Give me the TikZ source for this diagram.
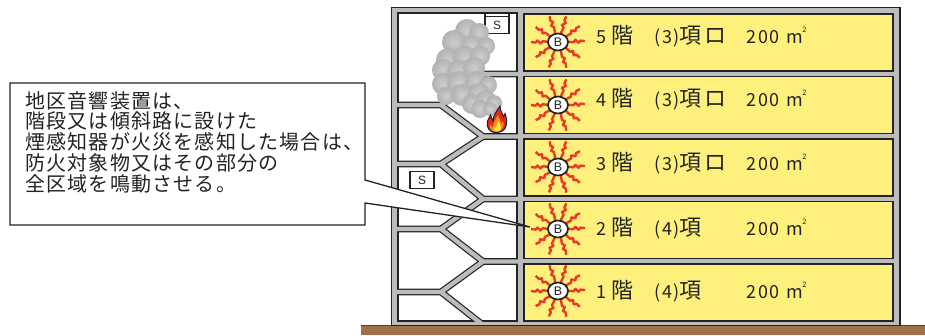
\documentclass[tikz,border=0pt]{standalone}
\usepackage{fontspec}
\setmainfont{Noto Sans CJK JP}
\newfontfamily\callfont[LetterSpace=6]{Noto Sans CJK JP}
\newfontfamily\rowfont[LetterSpace=10]{Noto Sans CJK JP}
\newfontfamily\iconfont{Liberation Sans}

\definecolor{ink}{RGB}{35,35,35}
\definecolor{wallgray}{RGB}{188,188,188}
\definecolor{roomyellow}{RGB}{254,240,125}
\definecolor{bellred}{RGB}{232,58,36}
\definecolor{earth}{RGB}{160,112,72}
\definecolor{earthdark}{RGB}{92,62,38}
\definecolor{smokein}{RGB}{206,206,206}
\definecolor{smokeout}{RGB}{178,178,178}
\definecolor{flamered}{RGB}{226,40,24}
\definecolor{flameorange}{RGB}{247,140,30}
\definecolor{flameyellow}{RGB}{255,230,60}

% larger kanji inside the floor labels
\newcommand\K[1]{{\fontsize{22}{22}\selectfont #1}}
% square metres with a small raised 2
\newcommand\sqm{m\kern-0.5pt\raisebox{0.6em}{\fontsize{7.5}{7.5}\selectfont 2}}

% centre lines of the stair landings and flights
\newcommand\stairflights{
  (521,74) -- (483,74) -- (441,105) -- (394,105)
  (441,105) -- (483,136.5) -- (521,136.5)
  (483,136.5) -- (441,164) -- (394,164)
  (441,164) -- (483,199) -- (521,199)
  (483,199) -- (441,229) -- (394,229)
  (441,229) -- (483,261.5) -- (521,261.5)
  (483,261.5) -- (441,292) -- (394,292)
  (441,292) -- (483,325)
}

\tikzset{
  outline/.style={draw=ink, line width=1.2},
  roombox/.style={outline, fill=roomyellow},
  sensorbox/.style={outline, fill=white},
  puff/.style={inner color=smokein, outer color=smokeout},
  rowtext/.style={font=\rowfont\fontsize{18}{18}\selectfont, text=ink, inner sep=0},
  calltext/.style={font=\callfont\fontsize{20}{20.8}\selectfont, text=ink, inner sep=0, align=left},
  bell/.pic={
    \foreach \a in {2,36,72,108,146,180,214,250,288,324}
      \draw[bellred, line width=2.4, line join=round, rotate=\a]
        (9,0) -- (15.5,0.8) -- (17.5,-1.5) -- (20.5,1.5) -- (22.5,-0.6) -- (27,0);
    \draw[ink, line width=1.7, fill=white] (0,0) ellipse [x radius=10, y radius=8.5];
    \node[font=\iconfont\fontsize{12.5}{12.5}\selectfont, text=ink, inner sep=0] at (0,0.3) {B};
  }
}

\begin{document}
\begin{tikzpicture}[x=1pt, y=-1pt]
\useasboundingbox (0,0) rectangle (925,335);

% ground
\fill[earth] (361,325.5) rectangle (925,335);
\draw[earthdark, line width=1] (361,325.5) -- (925,325.5);

% building shell and stair shaft
\draw[outline, fill=wallgray] (391.5,7.5) rectangle (900,325.5);
\draw[outline, fill=white] (398,13) rectangle (517,321);

% floors
\draw[roombox] (524,14)    rectangle (893,71);
\draw[roombox] (524,76.5)  rectangle (893,133.5);
\draw[roombox] (524,139)   rectangle (893,196);
\draw[roombox] (524,201.5) rectangle (893,258.5);
\draw[roombox] (524,264)   rectangle (893,321);

% stair: dark edges first, grey body on top
\begin{scope}
  \clip (398,13) rectangle (517,321);
  \draw[ink, line width=6.8, line join=miter] \stairflights;
\end{scope}
\begin{scope}
  \clip (394,10) rectangle (521,324);
  \draw[wallgray, line width=4.4, line join=miter] \stairflights;
\end{scope}

% smoke detectors
\draw[sensorbox] (485,13) rectangle (509,33.3);
\draw[outline] (485,16.8) -- (509,16.8);
\node[font=\iconfont\fontsize{12}{12}\selectfont, text=ink, inner sep=0] (s1) at (497,25.5) {S};
\draw[sensorbox] (410,171.5) rectangle (434,188.5);
\node[font=\iconfont\fontsize{12}{12}\selectfont, text=ink, inner sep=0] (s2) at (422,180.5) {S};

% smoke
\foreach \cx/\cy/\cr in {467/31/12, 479/33/10, 454/42/12, 472/46/11, 486/46/9,
  448/60/12, 465/58/12, 480/56/10, 443/70/11, 459/72/12, 474/68/11,
  443/84/11, 459/83/12, 476/82/11, 488/85/9, 446/96/9, 462/95/11, 479/94/11,
  472/104/10, 486/100/10, 494/103/8, 480/109/9, 490/109/7}
  \shade[puff] (\cx,\cy) circle [radius=\cr];

% fire
\draw[ink, line width=1, fill=flamered]
  (496,132.5) .. controls (489,132.5) and (486,127) .. (487.5,121)
  .. controls (488.5,118) and (490,117) .. (490.5,115)
  .. controls (492,118) and (492,120) .. (493,121)
  .. controls (493,115) and (497,111) .. (500,106)
  .. controls (500,111) and (503,114) .. (503.5,117)
  .. controls (504.5,116) and (505,115) .. (505,113.5)
  .. controls (507,118) and (507,124) .. (505.5,127.5)
  .. controls (504,131) and (500,132.5) .. (496,132.5) -- cycle;
\fill[flameorange]
  (496,131.5) .. controls (491,131.5) and (489,128) .. (490,124)
  .. controls (491,126) and (492,127) .. (493,127)
  .. controls (493,122) and (496,119) .. (498,115)
  .. controls (499,119) and (501,121) .. (501.5,124)
  .. controls (502.5,123) and (503,122) .. (503,121)
  .. controls (505,125) and (503,131.5) .. (496,131.5) -- cycle;
\fill[flameyellow]
  (496.5,131.5) .. controls (493.5,131.5) and (492.5,129) .. (494,127)
  .. controls (495,128) .. (496,128)
  .. controls (496,125) and (497.5,123) .. (498.5,121)
  .. controls (499.5,124) and (501.5,126) .. (501,129)
  .. controls (500.5,131) and (498.5,131.5) .. (496.5,131.5) -- cycle;

% sounders and floor labels
\foreach \r/\yc/\yb/\cls in {5/42/43.5/{(3)\K{項ロ}}, 4/105/106.5/{(3)\K{項ロ}},
    3/167/170.5/{(3)\K{項ロ}}, 2/229/235/{(4)\K{項}}, 1/291/298/{(4)\K{項}}} {
  \pic (bell\r) at (558,\yc) {bell};
  \node[rowtext, anchor=base west] (num\r)  at (596,\yb) {\r};
  \node[rowtext, anchor=base west] (kai\r)  at (611,\yb) {\K{階}};
  \node[rowtext, anchor=base west] (cls\r)  at (654,\yb) {\cls};
  \node[rowtext, anchor=base west] (area\r) at (746,\yb) {200};
  \node[rowtext, anchor=base west] (unit\r) at (786,\yb) {\sqm};
}

% callout pointing at the 2nd floor sounder
\coordinate (c-nw) at (10,83);
\coordinate (c-ne) at (365,83);
\coordinate (c-a)  at (365,180);
\coordinate (tip)  at (530,227);
\coordinate (c-b)  at (365,203);
\coordinate (c-se) at (365,225);
\coordinate (c-sw) at (10,225);
\draw[ink, line width=1.3, fill=white, line join=miter]
  (c-nw) -- (c-ne) -- (c-a) -- (tip) -- (c-b) -- (c-se) -- (c-sw) -- cycle;
\node[calltext, anchor=north west] (note) at (25,91)
  {地区音響装置は、\\階段又は傾斜路に設けた\\煙感知器が火災を感知した場合は、\\防火対象物又はその部分の\\全区域を鳴動させる。};
\end{tikzpicture}
\end{document}
